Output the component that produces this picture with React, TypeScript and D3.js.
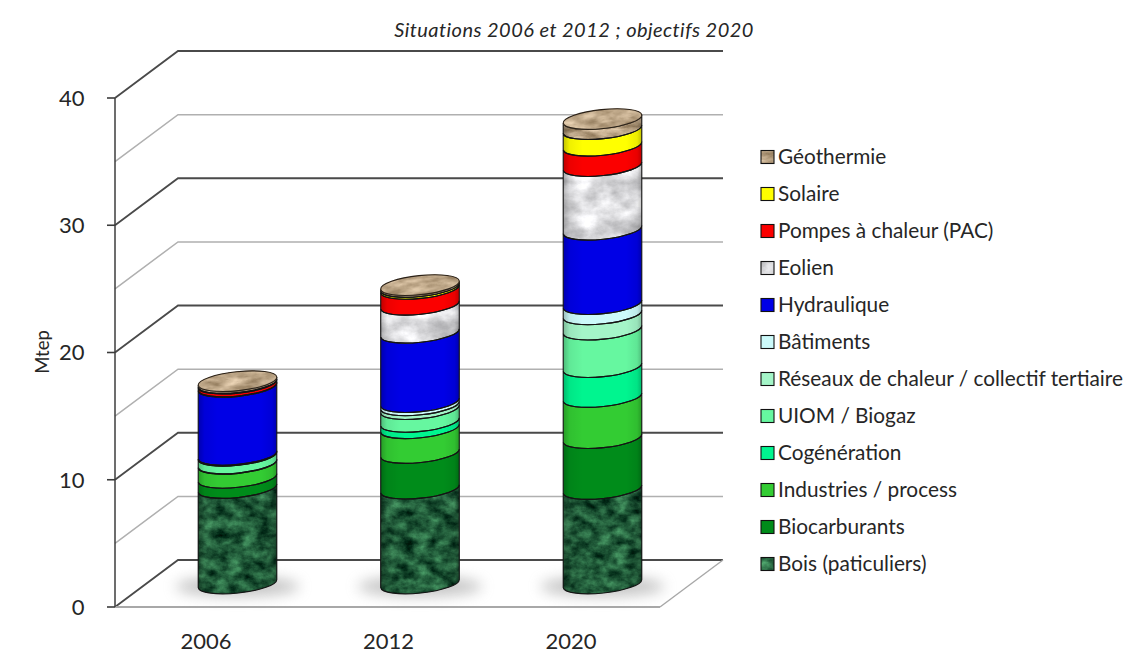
import React from "react";
import * as d3 from "d3";

const years = ["2006", "2012", "2020"];
const seriesNames = [
  "Bois (paticuliers)", "Biocarburants", "Industries / process", "Cogénération",
  "UIOM / Biogaz", "Réseaux de chaleur / collectif tertiaire", "Bâtiments",
  "Hydraulique", "Eolien", "Pompes à chaleur (PAC)", "Solaire", "Géothermie",
];
const bois = [7.5, 7.45, 7.42];
const biocarburants = [0.8, 2.8, 4.0];
const industries = [1.1, 1.95, 3.23];
const cogeneration = [0.03, 0.5, 2.35];
const uiom = [0.6, 1.0, 2.95];
const reseaux = [0.03, 0.3, 1.2];
const batiments = [0.04, 0.25, 0.8];
const hydraulique = [5.35, 5.45, 5.85];
const eolien = [0.03, 2.2, 5.0];
const pac = [0.22, 1.25, 1.6];
const solaire = [0.05, 0.15, 1.3];
const geothermie = [0.15, 0.15, 0.8];
const seriesValues = [bois, biocarburants, industries, cogeneration, uiom, reseaux, batiments, hydraulique, eolien, pac, solaire, geothermie];
const seriesColors = ["#1f5c3a", "#008c1a", "#33cc33", "#00f58f", "#66f7a0", "#a4f5c8", "#ccfafa", "#0000e6", "#e4e4e4", "#fb0000", "#ffff00", "#c8ad8c"];
const seriesTextures = ["url(#tGreen)", "", "", "", "", "", "", "", "url(#tMarble)", "", "", "url(#tStone)"];
const yTicks = [0, 10, 20, 30, 40];
const gridValues = [0, 5, 10, 15, 20, 25, 30, 35, 40];

const y = d3.scaleLinear().domain([0, 40]).range([607, 98]);
const xCat = d3.scalePoint<string>().domain(years).range([206, 571]);
const X0 = 115, X1 = 660, DX = 63, DY = 47;
const RX = 39.5, RY = 9.5, ROT = -6;
const ex = RX * Math.cos((ROT * Math.PI) / 180);
const ey = -RX * Math.sin((ROT * Math.PI) / 180);
const FONT = "Lato, Carlito, sans-serif";

function bandPath(cx: number, top: number, bot: number) {
  return `M${cx - ex},${top + ey}A${RX},${RY} ${ROT} 0 0 ${cx + ex},${top - ey}L${cx + ex},${bot - ey}A${RX},${RY} ${ROT} 0 1 ${cx - ex},${bot + ey}Z`;
}
function fullBand(cx: number, top: number, bot: number) {
  return `M${cx - ex},${top + ey}A${RX},${RY} ${ROT} 0 1 ${cx + ex},${top - ey}L${cx + ex},${bot - ey}A${RX},${RY} ${ROT} 0 1 ${cx - ex},${bot + ey}Z`;
}

function texture(id: string, freq: string, seed: number, matrix: string) {
  return (
    <filter id={id} x="0" y="0" width="1" height="1" colorInterpolationFilters="sRGB">
      <feTurbulence type="fractalNoise" baseFrequency={freq} numOctaves={5} seed={seed} result="n" />
      <feColorMatrix in="n" type="matrix" values={matrix} result="c" />
      <feComposite in="c" in2="SourceAlpha" operator="in" />
    </filter>
  );
}

export default function App() {
  const stacks = years.map((_, i) => {
    let c = 0;
    return seriesValues.map((v) => {
      const start = c;
      c += v[i];
      return [start, c];
    });
  });
  const line = d3.line();
  return (
    <svg width={1126} height={664} style={{ position: "absolute", left: 0, top: 0, background: "#fff" }} fontFamily={FONT}>
      <defs>
        {texture("tGreen", "0.07 0.1", 3, "0.45 0 0 0 -0.1  0.72 0 0 0 -0.01  0.5 0 0 0 -0.03  0 0 0 0 1")}
        {texture("tMarble", "0.035 0.05", 8, "0.6 0 0 0 0.57  0.6 0 0 0 0.57  0.6 0 0 0 0.58  0 0 0 0 1")}
        {texture("tStone", "0.05 0.14", 5, "0.55 0 0 0 0.47  0.55 0 0 0 0.38  0.55 0 0 0 0.26  0 0 0 0 1")}
        <linearGradient id="shade" x1="0" x2="1" y1="0" y2="0">
          <stop offset="0" stopColor="#000" stopOpacity={0.24} />
          <stop offset="0.08" stopColor="#000" stopOpacity={0.06} />
          <stop offset="0.25" stopColor="#000" stopOpacity={0} />
          <stop offset="0.8" stopColor="#000" stopOpacity={0} />
          <stop offset="0.94" stopColor="#000" stopOpacity={0.07} />
          <stop offset="1" stopColor="#000" stopOpacity={0.24} />
        </linearGradient>
        <filter id="blur" x="-30%" y="-100%" width="160%" height="300%">
          <feGaussianBlur stdDeviation="7" />
        </filter>
      </defs>

      {gridValues.map((v) => {
        const major = v % 10 === 0;
        const p = y(v);
        const pts: [number, number][] = [[X0, p], [X0 + DX, p - DY], [X1 + DX, p - DY]];
        return <path key={v} d={line(pts)!} fill="none" stroke={major ? "#4a4a4a" : "#b0b0b0"} strokeWidth={major ? 1.8 : 1.5} />;
      })}
      <line x1={X0} x2={X1} y1={y(0)} y2={y(0)} stroke="#a8a8a8" strokeWidth={1.8} />
      <line x1={X1} x2={X1 + DX} y1={y(0)} y2={y(0) - DY} stroke="#a8a8a8" strokeWidth={1.4} />
      <line x1={X0} x2={X0} y1={y(0)} y2={y(40)} stroke="#3c3c3c" strokeWidth={1.5} />
      {yTicks.map((t) => (
        <g key={t}>
          <line x1={X0 - 8} x2={X0} y1={y(t)} y2={y(t)} stroke="#3c3c3c" strokeWidth={1.6} />
          <text x={X0 - 30.5} y={y(t)} dy="0.36em" textAnchor="end" fontSize={22} fill="#262626">{t}</text>
        </g>
      ))}
      <text transform="translate(49,352) rotate(-90)" textAnchor="middle" fontSize={18.5} fill="#262626">Mtep</text>
      <text x={574} y={37} textAnchor="middle" fontSize={20} letterSpacing={0.45} fontStyle="italic" fill="#262626">Situations 2006 et 2012 ; objectifs 2020</text>

      {years.map((yr, i) => {
        const cx = xCat(yr)! + DX / 2;
        const oy = -DY / 2;
        const zeroY = y(0) + oy;
        const topY = y(stacks[i][stacks[i].length - 1][1]) + oy;
        return (
          <g key={yr}>
            <ellipse cx={cx} cy={zeroY + 3} rx={62} ry={10} fill="#888" opacity={0.5} filter="url(#blur)" />
            {seriesValues.map((_, s) => {
              const [a, b] = stacks[i][s];
              const d = s === seriesValues.length - 1 ? fullBand(cx, y(b) + oy, y(a) + oy) : bandPath(cx, y(b) + oy, y(a) + oy);
              return (
                <g key={s}>
                  <path d={d} fill={seriesColors[s]} />
                  {seriesTextures[s] && <path d={d} fill="#000" filter={seriesTextures[s]} />}
                </g>
              );
            })}
            <path d={bandPath(cx, topY, zeroY)} fill="url(#shade)" />
            {seriesValues.map((_, s) => {
              const [a, b] = stacks[i][s];
              return <path key={s} d={bandPath(cx, y(b) + oy, y(a) + oy)} fill="none" stroke="#141414" strokeWidth={1.1} />;
            })}
            <ellipse cx={cx} cy={topY} rx={RX} ry={RY} transform={`rotate(${ROT} ${cx} ${topY})`} fill={seriesColors[11]} />
            <ellipse cx={cx} cy={topY} rx={RX} ry={RY} transform={`rotate(${ROT} ${cx} ${topY})`} fill="#000" filter="url(#tStone)" />
            <ellipse cx={cx} cy={topY} rx={RX} ry={RY} transform={`rotate(${ROT} ${cx} ${topY})`} fill="none" stroke="#2a2118" strokeWidth={1.1} />
            <text x={xCat(yr)!} y={641} dy="0.36em" textAnchor="middle" fontSize={22} fill="#262626">{yr}</text>
          </g>
        );
      })}

      {seriesNames.map((name, s) => {
        const row = d3.scaleLinear().domain([0, 11]).range([564, 157])(s);
        return (
          <g key={name}>
            <rect x={761} y={row - 6.5} width={13} height={13} fill={seriesColors[s]} />
            {seriesTextures[s] && <rect x={761} y={row - 6.5} width={13} height={13} fill="#000" filter={seriesTextures[s]} />}
            <rect x={761} y={row - 6.5} width={13} height={13} fill="none" stroke="#111" strokeWidth={1.1} />
            <text x={778} y={row} dy="0.36em" fontSize={20.8} fill="#262626">{name}</text>
          </g>
        );
      })}
    </svg>
  );
}
